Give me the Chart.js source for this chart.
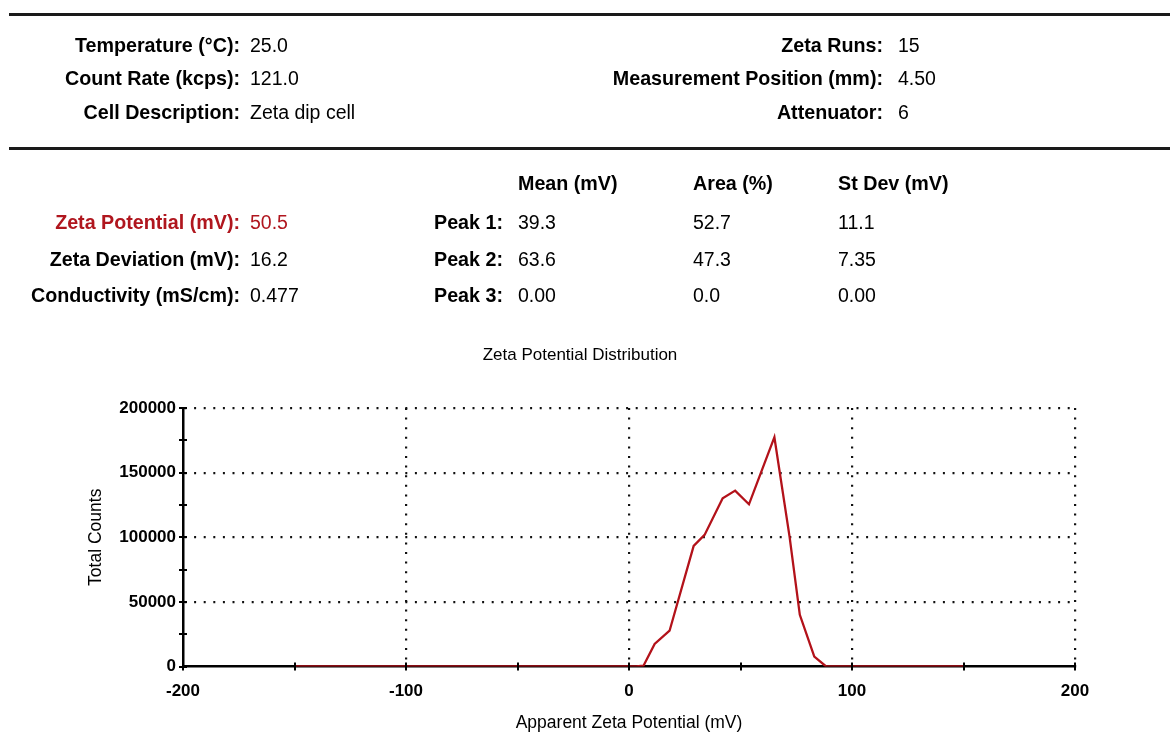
<!DOCTYPE html>
<html>
<head>
<meta charset="utf-8">
<title>Zeta Potential Distribution</title>
<script src="https://cdn.jsdelivr.net/npm/chart.js@4.4.1/dist/chart.umd.min.js"></script>
<style>
  html, body { margin: 0; padding: 0; background: #fff; }
  body { width: 1170px; height: 734px; position: relative; overflow: hidden;
         font-family: "Liberation Sans", Arial, sans-serif; color: #000; }
  #chart { position: absolute; left: 0; top: 0; }
  .rule { position: absolute; left: 9px; width: 1161px; height: 3px; background: #1a1a1a; }
  .t { position: absolute; height: 24px; line-height: 24px; font-size: 19.5px; white-space: nowrap; }
  .lab { font-weight: bold; text-align: right; font-size: 19.7px; }
  .val { font-weight: normal; text-align: left; }
  .red { color: #b0161e; }
  .title { position: absolute; left: 430px; width: 300px; top: 343px; text-align: center;
           font-size: 17px; line-height: 24px; }
</style>
</head>
<body>
<canvas id="chart" width="1170" height="734"></canvas>

<div class="rule" style="top:13px"></div>
<div class="rule" style="top:147px"></div>

<!-- instrument settings -->
<div class="t lab" style="right:930px; top:33px">Temperature (°C):</div>
<div class="t val" style="left:250px; top:33px">25.0</div>
<div class="t lab" style="right:930px; top:66px">Count Rate (kcps):</div>
<div class="t val" style="left:250px; top:66px">121.0</div>
<div class="t lab" style="right:930px; top:100px">Cell Description:</div>
<div class="t val" style="left:250px; top:100px">Zeta dip cell</div>

<div class="t lab" style="right:287px; top:33px">Zeta Runs:</div>
<div class="t val" style="left:898px; top:33px">15</div>
<div class="t lab" style="right:287px; top:66px">Measurement Position (mm):</div>
<div class="t val" style="left:898px; top:66px">4.50</div>
<div class="t lab" style="right:287px; top:100px">Attenuator:</div>
<div class="t val" style="left:898px; top:100px">6</div>

<!-- results table -->
<div class="t lab" style="left:518px; top:171px; text-align:left">Mean (mV)</div>
<div class="t lab" style="left:693px; top:171px; text-align:left">Area (%)</div>
<div class="t lab" style="left:838px; top:171px; text-align:left">St Dev (mV)</div>

<div class="t lab red" style="right:930px; top:210px">Zeta Potential (mV):</div>
<div class="t val red" style="left:250px; top:210px">50.5</div>
<div class="t lab" style="right:930px; top:247px">Zeta Deviation (mV):</div>
<div class="t val" style="left:250px; top:247px">16.2</div>
<div class="t lab" style="right:930px; top:283px">Conductivity (mS/cm):</div>
<div class="t val" style="left:250px; top:283px">0.477</div>

<div class="t lab" style="right:667px; top:210px">Peak 1:</div>
<div class="t val" style="left:518px; top:210px">39.3</div>
<div class="t val" style="left:693px; top:210px">52.7</div>
<div class="t val" style="left:838px; top:210px">11.1</div>
<div class="t lab" style="right:667px; top:247px">Peak 2:</div>
<div class="t val" style="left:518px; top:247px">63.6</div>
<div class="t val" style="left:693px; top:247px">47.3</div>
<div class="t val" style="left:838px; top:247px">7.35</div>
<div class="t lab" style="right:667px; top:283px">Peak 3:</div>
<div class="t val" style="left:518px; top:283px">0.00</div>
<div class="t val" style="left:693px; top:283px">0.0</div>
<div class="t val" style="left:838px; top:283px">0.00</div>

<div class="title">Zeta Potential Distribution</div>

<script>
// Apparent zeta potential (mV) and total counts of the measured distribution
const potentials = [-150, 3.2, 6.5, 11.5, 18.2, 29.0, 33.9, 42.0, 47.6, 53.8, 59.6, 65.2, 72.0, 76.6, 83.1, 88.4, 150];
const counts     = [0, 0, 600, 17400, 27700, 93300, 101800, 130200, 136100, 125500, 152000, 177400, 100500, 40000, 7600, 0, 0];

// Axis ranges and labelled tick values
const xRange = [-200, 200];
const yRange = [0, 200000];
const xLabelled = [-200, -100, 0, 100, 200];
const yLabelled = [0, 50000, 100000, 150000, 200000];

const FONT = '"Liberation Sans", Arial, sans-serif';
const DOT = [2, 7.6];

// Short tick marks that cross both axis lines
const axisTicks = {
  id: 'axisTicks',
  afterDatasetsDraw(chart) {
    const { ctx, chartArea } = chart;
    const xs = chart.scales.x, ys = chart.scales.y;
    ctx.save();
    ctx.strokeStyle = '#000';
    ctx.lineWidth = 2;
    ctx.beginPath();
    xs.ticks.forEach(t => {
      const px = Math.round(xs.getPixelForValue(t.value));
      ctx.moveTo(px, chartArea.bottom - 4);
      ctx.lineTo(px, chartArea.bottom + 4);
    });
    ys.ticks.forEach(t => {
      const py = Math.round(ys.getPixelForValue(t.value));
      ctx.moveTo(chartArea.left - 4, py);
      ctx.lineTo(chartArea.left + 4, py);
    });
    ctx.stroke();
    ctx.restore();
  }
};

new Chart(document.getElementById('chart'), {
  type: 'line',
  data: {
    datasets: [{
      data: potentials.map((p, i) => ({ x: p, y: counts[i] })),
      borderColor: '#b3121a',
      borderWidth: 2.3,
      pointRadius: 0,
      tension: 0,
      fill: false
    }]
  },
  plugins: [axisTicks],
  options: {
    responsive: false,
    devicePixelRatio: 1,
    animation: false,
    layout: { padding: { top: 408, right: 95, left: 0, bottom: 0 } },
    plugins: { legend: { display: false }, tooltip: { enabled: false }, title: { display: false } },
    scales: {
      x: {
        type: 'linear',
        min: xRange[0], max: xRange[1],
        afterFit: s => { s.height = 67.5; },
        ticks: {
          stepSize: 50, autoSkip: false, maxRotation: 0, padding: 15, color: '#000',
          font: { family: FONT, size: 17, weight: 'bold' },
          callback: v => xLabelled.includes(v) ? String(v) : ''
        },
        grid: {
          drawTicks: false, lineWidth: 2.2,
          color: c => (c.tick && c.tick.value > xRange[0] && c.tick.value % 100 === 0) ? '#111' : 'rgba(0,0,0,0)'
        },
        border: { display: true, color: '#000', width: 2.5, dash: DOT },
        title: {
          display: true, text: 'Apparent Zeta Potential (mV)', color: '#000',
          font: { family: FONT, size: 17.5 }, padding: { top: 0, bottom: 0 }
        }
      },
      y: {
        min: yRange[0], max: yRange[1],
        afterFit: s => { s.width = 183; },
        ticks: {
          stepSize: 25000, autoSkip: false, padding: 7, color: '#000',
          font: { family: FONT, size: 17, weight: 'bold' },
          callback: v => yLabelled.includes(v) ? String(v) : ''
        },
        grid: {
          drawTicks: false, lineWidth: 2.2,
          color: c => (c.tick && c.tick.value > yRange[0] && c.tick.value % 50000 === 0) ? '#111' : 'rgba(0,0,0,0)'
        },
        border: { display: true, color: '#000', width: 2.5, dash: DOT },
        title: {
          display: true, text: 'Total Counts', color: '#000',
          font: { family: FONT, size: 17.5 }, padding: { top: 86, bottom: 0 }
        }
      }
    }
  }
});
</script>
</body>
</html>
